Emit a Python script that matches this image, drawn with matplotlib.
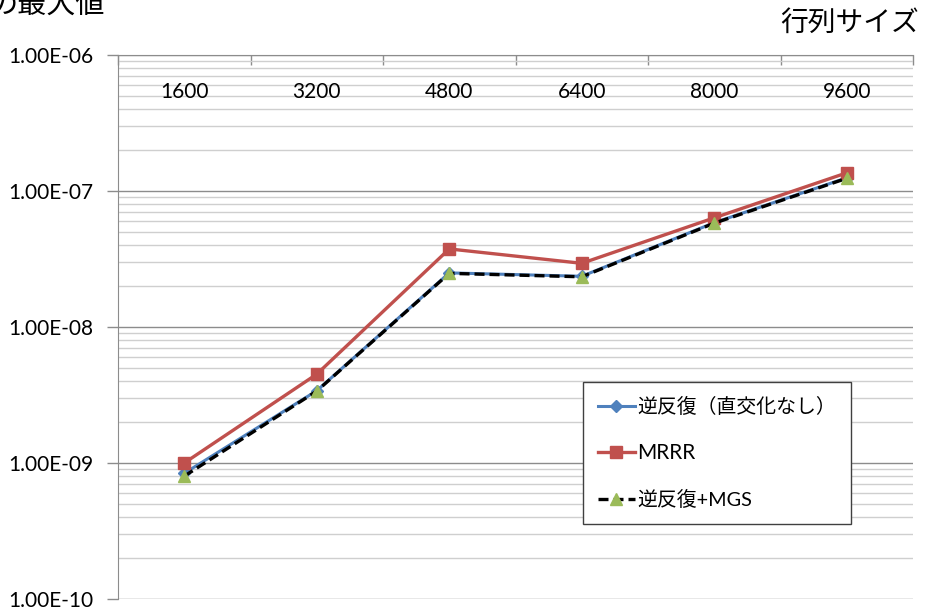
import matplotlib
matplotlib.use("Agg")
import matplotlib.pyplot as plt
from matplotlib.ticker import LogLocator, NullFormatter, FixedLocator
import numpy as np

plt.rcParams['font.family'] = ['Lato', 'Noto Sans CJK JP', 'DejaVu Sans']

categories = ["1600", "3200", "4800", "6400", "8000", "9600"]
inv_iter = [8.4e-10, 3.40e-9, 2.50e-8, 2.36e-8, 5.85e-8, 1.25e-7]
mrrr = [1.00e-9, 4.50e-9, 3.75e-8, 2.94e-8, 6.35e-8, 1.36e-7]
inv_mgs = [8.0e-10, 3.38e-9, 2.48e-8, 2.34e-8, 5.80e-8, 1.24e-7]
series_names = ["逆反復（直交化なし）", "MRRR", "逆反復+MGS"]
ytick_labels = ["1.00E-10", "1.00E-09", "1.00E-08", "1.00E-07", "1.00E-06"]
y_title = "の最大値"
x_title = "行列サイズ"

W, H = 927, 610
fig = plt.figure(figsize=(W / 100, H / 100), dpi=100)
ax = fig.add_axes([118 / W, 1 - 599 / H, 795 / W, 544 / H])

x = np.arange(len(categories))

ax.plot(x, inv_iter, color="#4F81BD", lw=2.2, marker="D", ms=6,
        markerfacecolor="#4F81BD", markeredgecolor="#4F81BD",
        label=series_names[0], zorder=3)
ax.plot(x, mrrr, color="#C0504D", lw=2.4, marker="s", ms=8,
        markerfacecolor="#C0504D", markeredgecolor="#C0504D",
        label=series_names[1], zorder=4)
ax.plot(x, inv_mgs, color="black", lw=2.4, ls=(0, (3, 1.5)), marker="^", ms=9,
        markerfacecolor="#9BBB59", markeredgecolor="#9BBB59",
        label=series_names[2], zorder=5)

ax.set_yscale("log")
ax.set_ylim(1e-10, 1e-6)
ax.set_xlim(-0.5, len(categories) - 0.5)

# grid
ax.yaxis.set_minor_locator(LogLocator(base=10, subs=np.arange(2, 10), numticks=20))
ax.yaxis.set_minor_formatter(NullFormatter())
ax.set_yticks([1e-10, 1e-9, 1e-8, 1e-7, 1e-6])
ax.set_yticklabels(ytick_labels)
ax.grid(True, which="major", axis="y", color="#8c8c8c", lw=1.0, zorder=0)
ax.grid(True, which="minor", axis="y", color="#cfcfcf", lw=1.0, zorder=0)
ax.set_axisbelow(True)
ax.tick_params(axis="y", which="major", direction="out", length=8, width=1,
               color="#8c8c8c", labelsize=15, pad=10, left=True)
ax.tick_params(axis="y", which="minor", length=0)

# x axis at top, tick marks at category boundaries
ax.xaxis.set_major_locator(FixedLocator(np.arange(-0.5, len(categories), 1.0)))
ax.xaxis.set_major_formatter(NullFormatter())
ax.tick_params(axis="x", which="major", top=True, bottom=False, direction="in",
               length=7, width=1, color="#8c8c8c", labeltop=False, labelbottom=False)
for i, c in enumerate(categories):
    ax.text(i, 1 - 37.5 / 544, c, transform=ax.get_xaxis_transform(),
            ha="center", va="center", fontsize=15, color="black", zorder=6)

for s in ["right", "bottom"]:
    ax.spines[s].set_visible(False)
ax.spines["left"].set_color("#8c8c8c")
ax.spines["top"].set_color("#8c8c8c")

leg = ax.legend(loc="upper left", bbox_to_anchor=((583 - 118) / 795, 1 - (382 - 55) / 544),
                fontsize=14, frameon=True, fancybox=False, edgecolor="#404040",
                framealpha=1, numpoints=1, handlelength=1.9, handletextpad=0.15,
                labelspacing=1.4, borderpad=0.75, borderaxespad=0)
leg.get_frame().set_linewidth(1.0)
for t in leg.get_texts():
    if t.get_text() == "MRRR":
        t.set_fontsize(15)
    else:
        t.set_fontsize(14.3)

fig.text(919 / W, 1 - 23 / H, x_title, ha="right", va="center", fontsize=20)
fig.text(-12 / W, 1 - 5 / H, y_title, ha="left", va="center", fontsize=21)

fig.savefig("out.png", dpi=100)
